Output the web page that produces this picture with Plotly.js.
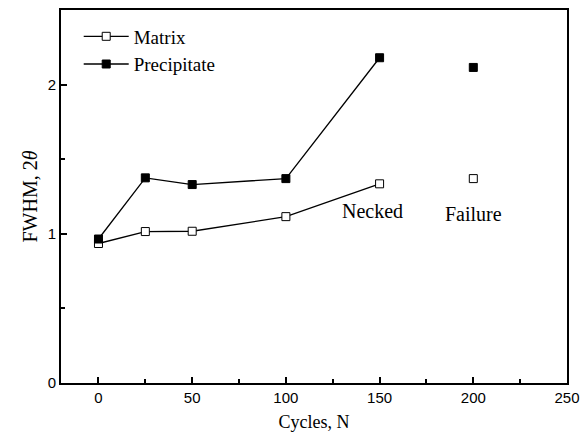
<!DOCTYPE html>
<html><head><meta charset="utf-8">
<script src="https://cdn.plot.ly/plotly-3.0.1.min.js"></script>
<style>body{margin:0;background:#fff}#c{width:588px;height:438px}</style>
</head><body><div id="c"></div>
<script>
const cycles = [0, 25, 50, 100, 150];
const matrix = [0.935, 1.015, 1.017, 1.115, 1.335];
const precipitate = [0.965, 1.375, 1.33, 1.37, 2.18];
const failureCycles = [200];
const matrixFailure = [1.37];
const precipitateFailure = [2.115];
const xTicks = [0, 50, 100, 150, 200, 250];
const yTicks = [0, 1, 2];

const traces = [
  {x: cycles, y: matrix, name: 'Matrix', mode: 'lines+markers',
   line: {color: '#000', width: 1.3},
   marker: {symbol: 'square', size: 8, color: '#fff', line: {color: '#000', width: 1}}},
  {x: cycles, y: precipitate, name: 'Precipitate', mode: 'lines+markers',
   line: {color: '#000', width: 1.3},
   marker: {symbol: 'square', size: 8, color: '#000', line: {color: '#000', width: 1}}},
  {x: failureCycles, y: matrixFailure, mode: 'markers', showlegend: false,
   marker: {symbol: 'square', size: 8, color: '#fff', line: {color: '#000', width: 1}}},
  {x: failureCycles, y: precipitateFailure, mode: 'markers', showlegend: false,
   marker: {symbol: 'square', size: 8, color: '#000', line: {color: '#000', width: 1}}}
];

const layout = {
  width: 588, height: 438,
  margin: {l: 61, r: 21, t: 10, b: 55},
  paper_bgcolor: '#fff', plot_bgcolor: '#fff',
  showlegend: true,
  legend: {x: 0.035, y: 0.98, xanchor: 'left', yanchor: 'top', bgcolor: 'rgba(0,0,0,0)',
    font: {family: 'Liberation Serif', size: 19, color: '#000'}, tracegroupgap: 0, itemwidth: 45},
  xaxis: {range: [-20, 250], tickvals: xTicks, ticktext: xTicks.map(String),
    ticks: 'inside', ticklen: 6, tickwidth: 1.5, tickcolor: '#000',
    minor: {dtick: 25, tick0: 25, ticks: 'inside', ticklen: 4, tickwidth: 1.5, tickcolor: '#000'},
    showgrid: false, zeroline: false, showline: true, linecolor: '#000', linewidth: 2, mirror: true,
    tickfont: {family: 'Liberation Sans', size: 15, color: '#000'},
    title: {text: 'Cycles, N', font: {family: 'Liberation Serif', size: 18, color: '#000'}, standoff: 10}},
  yaxis: {range: [0, 2.5], tickvals: yTicks, ticktext: yTicks.map(String),
    ticks: 'inside', ticklen: 6, tickwidth: 1.5, tickcolor: '#000',
    minor: {dtick: 0.5, tick0: 0.5, ticks: 'inside', ticklen: 4, tickwidth: 1.5, tickcolor: '#000'},
    showgrid: false, zeroline: false, showline: true, linecolor: '#000', linewidth: 2, mirror: true,
    tickfont: {family: 'Liberation Sans', size: 15, color: '#000'},
    title: {text: 'FWHM, 2<i>θ</i>', font: {family: 'Liberation Serif', size: 20, color: '#000'}, standoff: 5}},
  annotations: [
    {x: 150, y: 1.15, xref: 'x', yref: 'y', text: 'Necked', showarrow: false, xanchor: 'center',
     font: {family: 'Liberation Serif', size: 20, color: '#000'}, xshift: -7},
    {x: 200, y: 1.13, xref: 'x', yref: 'y', text: 'Failure', showarrow: false, xanchor: 'center',
     font: {family: 'Liberation Serif', size: 20, color: '#000'}}
  ]
};
Plotly.newPlot('c', traces, layout, {displayModeBar: false});
</script></body></html>
